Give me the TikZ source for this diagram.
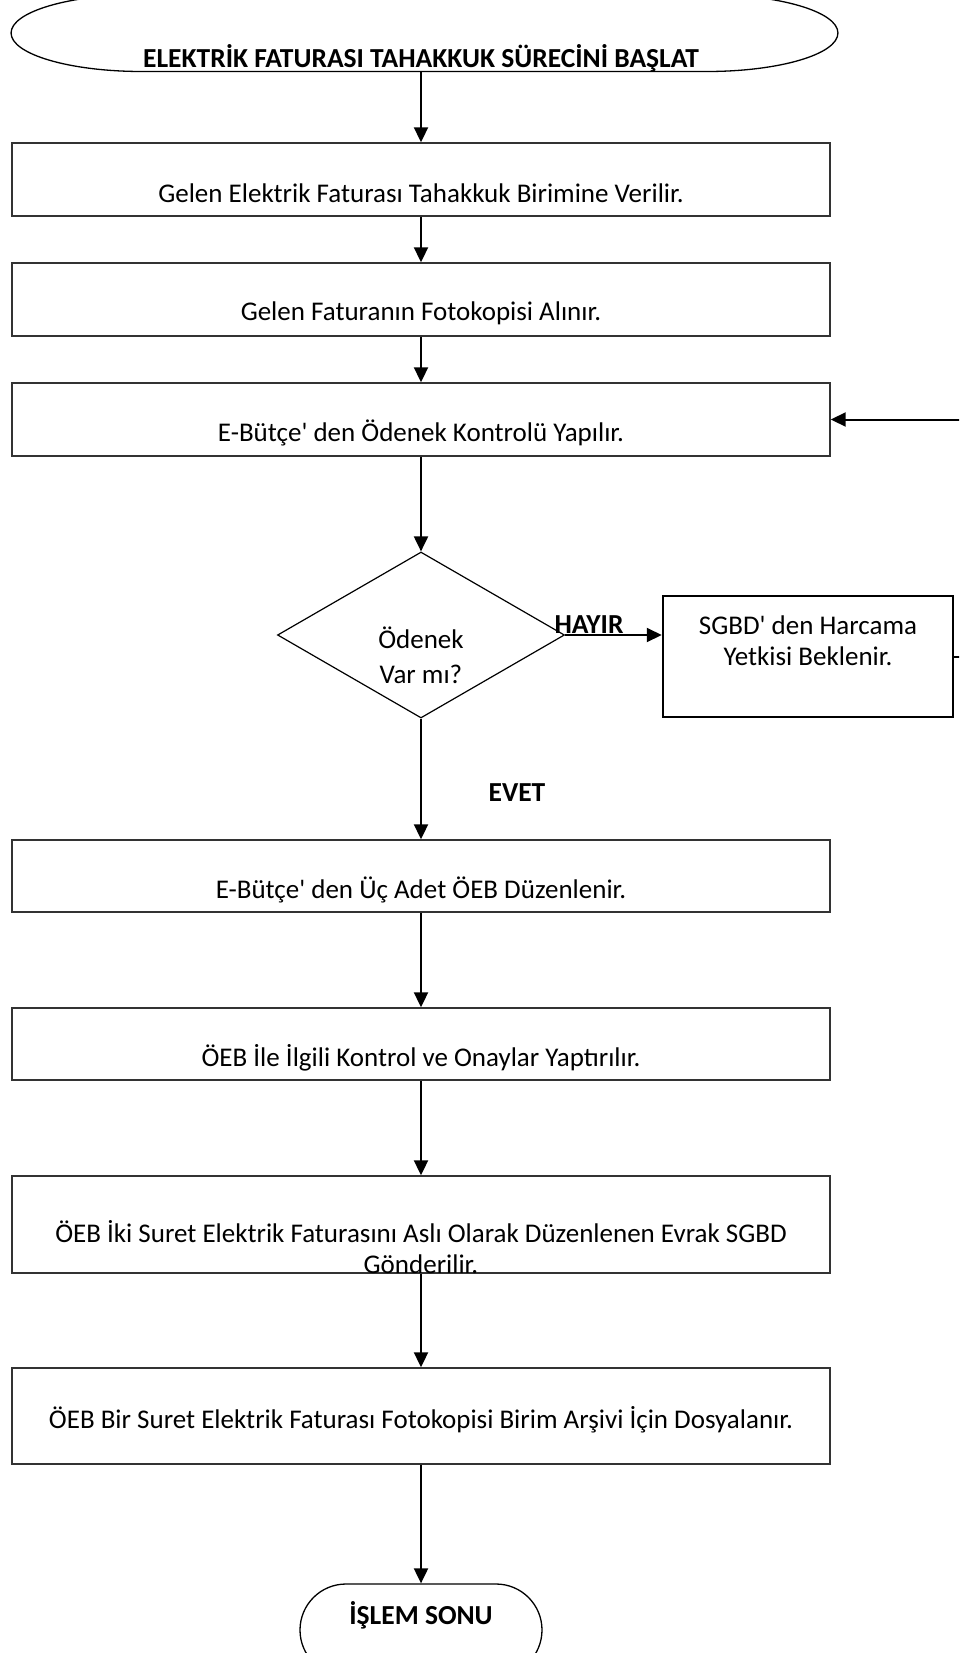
\documentclass[tikz,border=0pt]{standalone}
\usepackage{fontspec}
\setmainfont{Carlito}
\usetikzlibrary{shapes.geometric,shapes.misc,arrows.meta}
\newcommand{\apos}{\textquotesingle}
\begin{document}
\begin{tikzpicture}[x=1pt,y=-1pt,
  stepbox/.style={draw=black!80, line width=1.4pt, minimum width=818pt, inner sep=0pt},
  txt/.style={font=\fontsize{27}{31}\selectfont, inner sep=0pt, align=center},
  boldtxt/.style={font=\fontsize{27.5}{31}\selectfont\bfseries, inner sep=0pt, align=center},
  flow/.style={line width=2pt, -{Triangle[length=15pt,width=14pt]}},
]
\useasboundingbox (0,0) rectangle (959,1653);
\clip (0,0) rectangle (959,1653);

% start terminal: a stadium stretched sideways, so its end caps are half ellipses
\begin{scope}[shift={(424.5,33)}, xscale=3.4]
  \node[rounded rectangle, draw, line width=1.3pt, minimum width=243.2pt, minimum height=77pt,
        inner sep=0pt, transform shape] (start) at (0,0) {};
\end{scope}
\node[boldtxt] (tstart) at (421,58) {ELEKTRİK FATURASI TAHAKKUK SÜRECİNİ BAŞLAT};

% process steps
\node[stepbox, minimum height=73pt] (b1) at (421,179.5) {};
\node[txt] (t1) at (421,193) {Gelen Elektrik Faturası Tahakkuk Birimine Verilir.};

\node[stepbox, minimum height=73pt] (b2) at (421,299.5) {};
\node[txt] (t2) at (421,313) {Gelen Faturanın Fotokopisi Alınır.};

\node[stepbox, minimum height=73pt] (b3) at (421,419.5) {};
\node[txt] (t3) at (421,433) {E-Bütçe\apos{} den Ödenek Kontrolü Yapılır.};

% decision
\node[diamond, draw, line width=1.2pt, minimum width=287pt, minimum height=166pt, inner sep=0pt] (d) at (421,635) {};
\node[txt, font=\fontsize{27}{35}\selectfont] (td) at (421,655) {Ödenek\\Var mı?};

\node[boldtxt] (no) at (589,625) {HAYIR};
\node[boldtxt] (yes) at (517,793) {EVET};

% waiting box
\node[draw, line width=2.5pt, minimum width=290pt, minimum height=121pt, inner sep=0pt] (wait) at (808,656.5) {};
\node[txt, font=\fontsize{27}{31}\selectfont] (twait) at (808,641) {SGBD\apos{} den Harcama\\Yetkisi Beklenir.};

\node[stepbox, minimum height=72pt] (b4) at (421,876) {};
\node[txt] (t4) at (421,890) {E-Bütçe\apos{} den Üç Adet ÖEB Düzenlenir.};

\node[stepbox, minimum height=72pt] (b5) at (421,1044) {};
\node[txt] (t5) at (421,1058) {ÖEB İle İlgili Kontrol ve Onaylar Yaptırılır.};

\node[stepbox, minimum height=97pt] (b6) at (421,1224.5) {};
\node[txt] (t6) at (421,1247) {ÖEB İki Suret Elektrik Faturasını Aslı Olarak Düzenlenen Evrak SGBD\\Gönderilir.};

\node[stepbox, minimum height=96pt] (b7) at (421,1416) {};
\node[txt] (t7) at (421,1420) {ÖEB Bir Suret Elektrik Faturası Fotokopisi Birim Arşivi İçin Dosyalanır.};

% end terminal
\node[rounded rectangle, draw, line width=1.3pt, minimum width=242pt, minimum height=92pt, inner sep=0pt] (end) at (421,1630) {};
\node[boldtxt] (tend) at (421,1615) {İŞLEM SONU};

% connectors
\draw[flow] (start.south -| b1.north) -- (b1.north);
\draw[flow] (b1) -- (b2);
\draw[flow] (b2) -- (b3);
\draw[flow] (b3) -- (d);
\draw[flow] (d) -- (b4);
\draw[flow] (b4) -- (b5);
\draw[flow] (b5) -- (b6);
\draw[flow] (b6) -- (b7);
\draw[flow] (b7) -- (end);
\draw[flow] (d.east) -- (d.east -| wait.west);
\draw[flow] (wait.east) -- ++(40,0) |- (b3.east);
\end{tikzpicture}
\end{document}
